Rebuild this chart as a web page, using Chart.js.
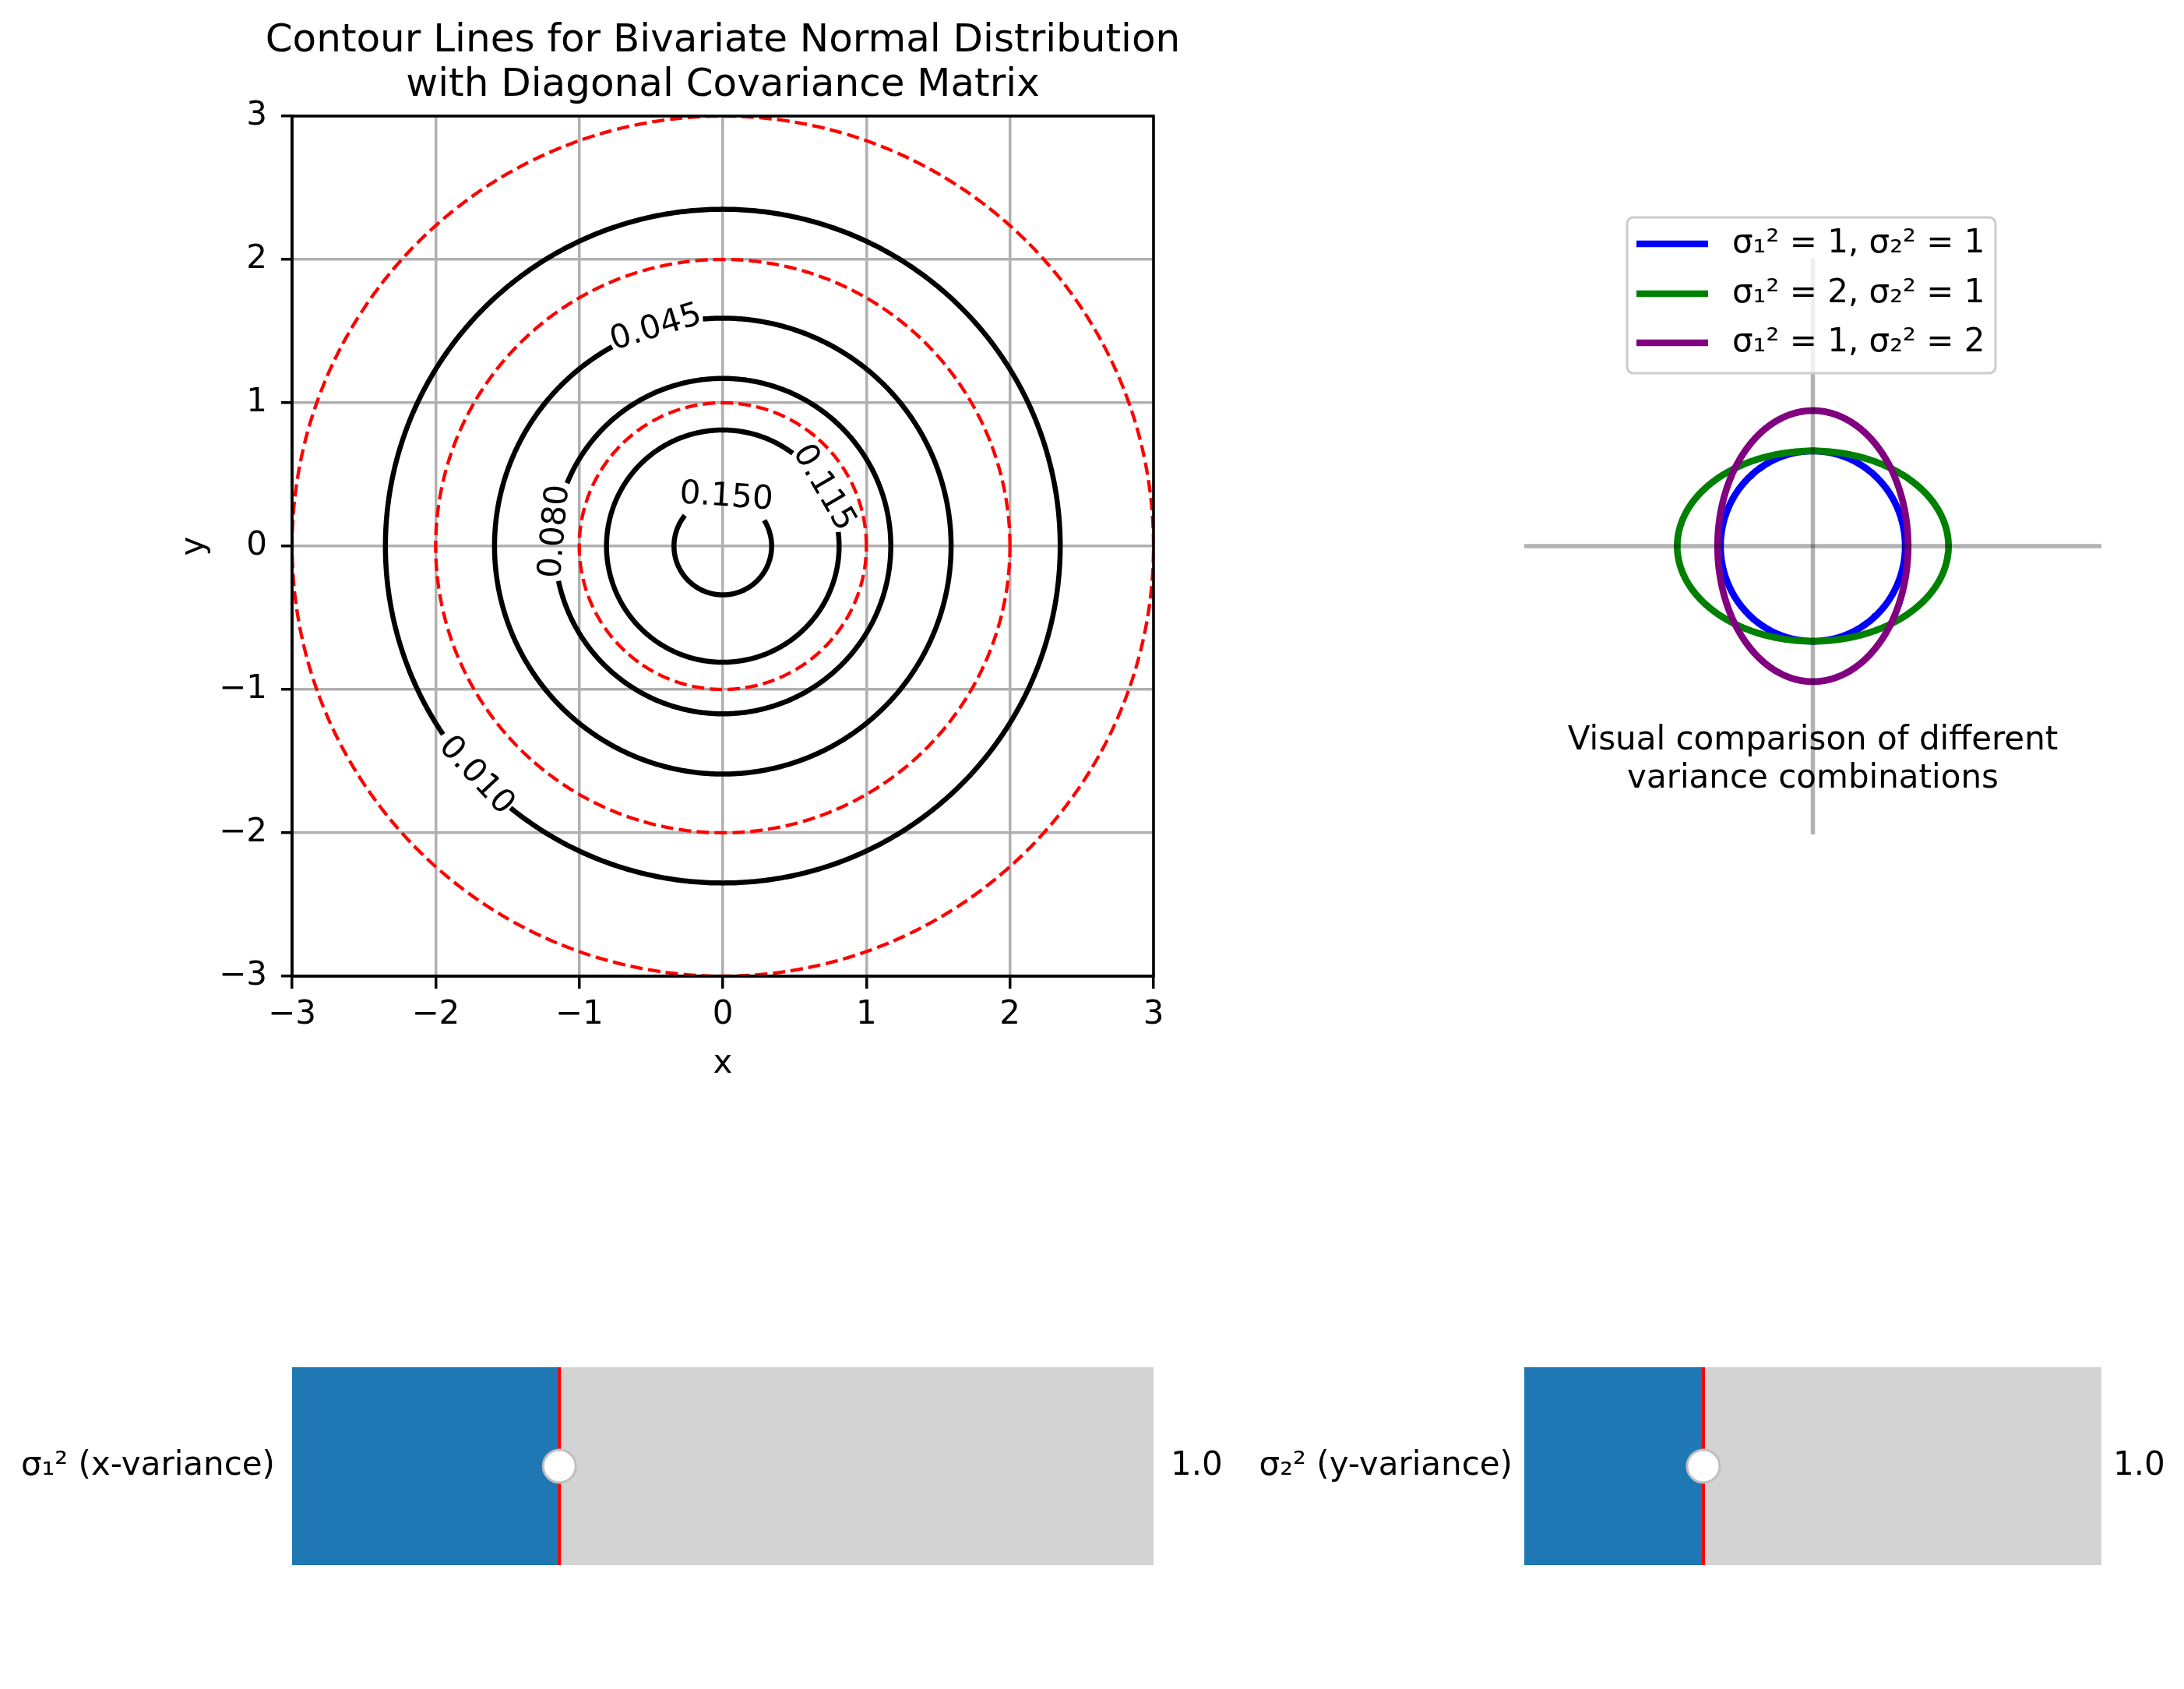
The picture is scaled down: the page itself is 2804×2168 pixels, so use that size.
<!DOCTYPE html>
<html>
<head>
<meta charset="utf-8">
<script src="https://cdn.jsdelivr.net/npm/chart.js@4.4.1/dist/chart.umd.min.js"></script>
<style>
  html, body { margin: 0; padding: 0; background: #fff; }
  body { width: 2804px; height: 2168px; position: relative; overflow: hidden; }
  canvas { position: absolute; left: 0; top: 0; width: 2804px; height: 2168px; }
</style>
</head>
<body>
<canvas id="contour" width="2804" height="2168"></canvas>
<canvas id="compare" width="2804" height="2168"></canvas>
<canvas id="slider1" width="2804" height="2168"></canvas>
<canvas id="slider2" width="2804" height="2168"></canvas>
<script>
const titleLines = ["Contour Lines for Bivariate Normal Distribution", "with Diagonal Covariance Matrix"];
const contourLevels = ["0.010", "0.045", "0.080", "0.115", "0.150"];
const contourRadii = [2.35, 1.59, 1.17, 0.81, 0.34];
const sigmaRadii = [1, 2, 3];
const axisTicks = [-3, -2, -1, 0, 1, 2, 3];

const comboLabels = ["σ₁² = 1, σ₂² = 1", "σ₁² = 2, σ₂² = 1", "σ₁² = 1, σ₂² = 2"];
const comboHalfAxes = [[0.96, 0.99], [1.41, 0.99], [0.99, 1.41]];
const comboColors = ["#0000ff", "#008000", "#800080"];
const comboNote = ["Visual comparison of different", "variance combinations"];

const sliderLabels = ["σ₁² (x-variance)", "σ₂² (y-variance)"];
const sliderValues = [1.0, 1.0];
const sliderMin = 0.1;
const sliderMax = 3.0;

// where clabel put each level on its ring, and the gap cut out for it (degrees)
const labelSpots = [
  { at: 223, gap: [214, 231] },
  { at: 107, gap: [95, 119] },
  { at: 175, gap: [158, 192] },
  { at: 30, gap: [7, 53] },
  { at: 86, gap: [32, 141] },
];

Chart.defaults.font.family = "'DejaVu Sans', sans-serif";
Chart.defaults.color = "#000";

const W = 2804, H = 2168;
const FONT = 42;

function ring(rx, ry, from, to) {
  const pts = [];
  for (let a = from; a <= to; a += 1) {
    const t = a * Math.PI / 180;
    pts.push({ x: rx * Math.cos(t), y: ry * Math.sin(t) });
  }
  return pts;
}

const minus = (v) => String(v).replace("-", "\u2212");

// tiny tension keeps chart.js off its x-sorted fast path, which mangles closed curves
const lineEl = { point: { radius: 0 }, line: { tension: 0.0001, capBezierPoints: false } };

// ---------- contour plot ----------
const contourSets = contourRadii.map((r, i) => ({
  data: ring(r, r, labelSpots[i].gap[1], labelSpots[i].gap[0] + 360),
  borderColor: "#000",
  borderWidth: 6.5,
}));
const sigmaSets = sigmaRadii.map((r) => ({
  data: ring(r, r, 0, 360),
  borderColor: "#ff0000",
  borderWidth: 4.3,
  borderDash: [16, 7],
  clip: 0,
}));

const contourLabels = {
  id: "contourLabels",
  afterDatasetsDraw(chart) {
    const { ctx, scales: { x, y } } = chart;
    contourLevels.forEach((lvl, i) => {
      const a = labelSpots[i].at;
      const t = a * Math.PI / 180;
      let rot = a - 90;
      while (rot > 90) rot -= 180;
      while (rot <= -90) rot += 180;
      ctx.save();
      ctx.translate(x.getPixelForValue(contourRadii[i] * Math.cos(t)), y.getPixelForValue(contourRadii[i] * Math.sin(t)));
      ctx.rotate(-rot * Math.PI / 180);
      ctx.font = FONT + "px 'DejaVu Sans'";
      ctx.fillStyle = "#000";
      ctx.textAlign = "center";
      ctx.textBaseline = "middle";
      ctx.fillText(lvl, 0, 0);
      ctx.restore();
    });
  },
};

const frame = {
  id: "frame",
  afterDraw(chart) {
    const { ctx, chartArea: a } = chart;
    ctx.save();
    ctx.strokeStyle = "#000";
    ctx.lineWidth = 3.5;
    ctx.strokeRect(a.left, a.top, a.right - a.left, a.bottom - a.top);
    ctx.restore();
  },
};

const axisOpts = (fit, tickPad, tickLen) => ({
  type: "linear",
  min: -3,
  max: 3,
  afterFit: fit,
  afterBuildTicks: (s) => { s.ticks = axisTicks.map((v) => ({ value: v })); },
  ticks: { padding: tickPad, maxRotation: 0, font: { size: FONT }, callback: (v) => minus(v) },
  grid: { color: "#b0b0b0", lineWidth: 3.5, tickColor: "#000", tickLength: tickLen, tickWidth: 3.5 },
  border: { color: "#000", width: 3.5 },
});

new Chart(document.getElementById("contour"), {
  type: "scatter",
  data: { datasets: [...contourSets, ...sigmaSets] },
  options: {
    responsive: false,
    animation: false,
    devicePixelRatio: 1,
    showLine: true,
    elements: lineEl,
    layout: { padding: { left: 225, top: 0, right: W - 1481 - 150, bottom: H - 1253 - 138 } },
    scales: {
      x: { ...axisOpts((s) => { s.height = 138; }, 9, 16), title: { display: true, text: "x", font: { size: FONT }, padding: 0 } },
      y: { ...axisOpts((s) => { s.width = 150; }, 18, 14), title: { display: true, text: "y", font: { size: FONT }, padding: 0 } },
      // empty spacer on the right so the full-width title centres over the plot
      yPad: {
        type: "linear", position: "right", min: -3, max: 3,
        afterFit: (s) => { s.width = 150; },
        ticks: { display: false }, grid: { display: false }, border: { display: false },
      },
    },
    plugins: {
      legend: { display: false },
      tooltip: { enabled: false },
      title: {
        display: true,
        text: titleLines,
        color: "#000",
        font: { size: 50, weight: "normal", lineHeight: 57 / 50 },
        padding: { top: 25, bottom: 10 },
      },
    },
  },
  plugins: [contourLabels, frame],
});

// ---------- variance comparison ----------
const comboSets = comboHalfAxes.map(([a, b], i) => ({
  data: ring(a, b, 0, 360),
  borderColor: comboColors[i],
  borderWidth: 8.7,
  order: 5 - i,
}));
const crossSets = [
  { data: [{ x: -3, y: 0 }, { x: 3, y: 0 }], borderColor: "rgba(0,0,0,0.3)", borderWidth: 5.5, order: 1, clip: 0 },
  { data: [{ x: 0, y: -3 }, { x: 0, y: 3 }], borderColor: "rgba(0,0,0,0.3)", borderWidth: 5.5, order: 1, clip: 0 },
];

const comboDeco = {
  id: "comboDeco",
  afterDatasetsDraw(chart) {
    const { ctx, scales: { x, y } } = chart;
    ctx.save();
    // note under the ellipses
    ctx.font = FONT + "px 'DejaVu Sans'";
    ctx.fillStyle = "#000";
    ctx.textAlign = "center";
    ctx.textBaseline = "alphabetic";
    const cx = x.getPixelForValue(0);
    const base = y.getPixelForValue(-2.2);
    ctx.fillText(comboNote[0], cx, base - 10);
    ctx.fillText(comboNote[1], cx, base + 39);

    // legend box
    const bx = 2089, by = 279, bw = 473, bh = 200, r = 8;
    ctx.beginPath();
    ctx.roundRect(bx, by, bw, bh, r);
    ctx.fillStyle = "rgba(255,255,255,0.8)";
    ctx.fill();
    ctx.strokeStyle = "#cccccc";
    ctx.lineWidth = 3;
    ctx.stroke();
    const rows = [313, 377, 440];
    ctx.font = FONT + "px 'DejaVu Sans'";
    ctx.textAlign = "left";
    ctx.textBaseline = "middle";
    comboLabels.forEach((lab, i) => {
      ctx.beginPath();
      ctx.moveTo(2101, rows[i]);
      ctx.lineTo(2193, rows[i]);
      ctx.strokeStyle = comboColors[i];
      ctx.lineWidth = 8.7;
      ctx.stroke();
      ctx.fillStyle = "#000";
      ctx.fillText(lab, 2224, rows[i]);
    });
    ctx.restore();
  },
};

new Chart(document.getElementById("compare"), {
  type: "scatter",
  data: { datasets: [...comboSets, ...crossSets] },
  options: {
    responsive: false,
    animation: false,
    devicePixelRatio: 1,
    showLine: true,
    elements: lineEl,
    layout: { padding: { left: 1957, top: 331, right: W - 2698, bottom: H - 1071 } },
    scales: {
      x: { type: "linear", min: -3, max: 3, display: false },
      y: { type: "linear", min: -3, max: 3, display: false },
    },
    plugins: { legend: { display: false }, tooltip: { enabled: false } },
  },
  plugins: [comboDeco],
});

// ---------- sliders ----------
const sliderDeco = {
  id: "sliderDeco",
  beforeDatasetsDraw(chart) {
    const { ctx, chartArea: a } = chart;
    ctx.save();
    ctx.fillStyle = "#d3d3d3";
    ctx.fillRect(a.left, a.top, a.right - a.left, a.bottom - a.top);
    ctx.restore();
  },
  afterDatasetsDraw(chart, args, opts) {
    const { ctx, chartArea: a } = chart;
    const px = chart.scales.x.getPixelForValue(opts.value);
    const cy = (a.top + a.bottom) / 2;
    ctx.save();
    ctx.strokeStyle = "#ff0000";
    ctx.lineWidth = 4;
    ctx.beginPath();
    ctx.moveTo(px, a.top);
    ctx.lineTo(px, a.bottom);
    ctx.stroke();
    ctx.beginPath();
    ctx.arc(px, cy, 21, 0, Math.PI * 2);
    ctx.fillStyle = "#fff";
    ctx.fill();
    ctx.strokeStyle = "#bfbfbf";
    ctx.lineWidth = 3;
    ctx.stroke();
    ctx.font = FONT + "px 'DejaVu Sans'";
    ctx.fillStyle = "#000";
    ctx.textAlign = "left";
    ctx.textBaseline = "middle";
    ctx.fillText(opts.value.toFixed(1), a.right + opts.gap, cy);
    ctx.restore();
  },
};

function sliderChart(id, i, left, right, gap) {
  new Chart(document.getElementById(id), {
    type: "bar",
    data: {
      labels: [sliderLabels[i]],
      datasets: [{
        data: [[sliderMin, sliderValues[i]]],
        backgroundColor: "#1f77b4",
        borderWidth: 0,
        barPercentage: 1,
        categoryPercentage: 1,
      }],
    },
    options: {
      indexAxis: "y",
      responsive: false,
      animation: false,
      devicePixelRatio: 1,
      layout: { padding: { left: 0, top: 1755, right: W - right, bottom: H - 2009 } },
      scales: {
        x: { type: "linear", min: sliderMin, max: sliderMax, display: false },
        y: {
          afterFit: (s) => { s.width = left; },
          grid: { display: false, drawTicks: false },
          border: { display: false },
          ticks: { padding: gap, font: { size: FONT } },
        },
      },
      plugins: {
        legend: { display: false },
        tooltip: { enabled: false },
        sliderDeco: { value: sliderValues[i], gap: gap },
      },
    },
    plugins: [sliderDeco],
  });
}

sliderChart("slider1", 0, 375, 1481, 22);
sliderChart("slider2", 1, 1957, 2698, 15);
</script>
</body>
</html>
